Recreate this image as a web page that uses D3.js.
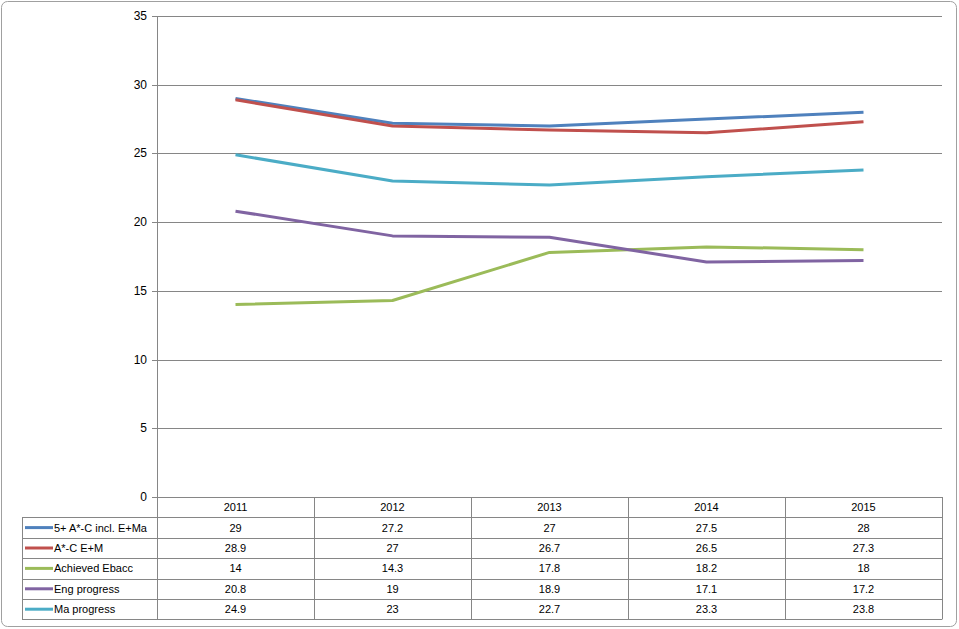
<!DOCTYPE html>
<html><head><meta charset="utf-8">
<script src="https://cdn.jsdelivr.net/npm/d3@7"></script>
<style>body{margin:0;background:#fff;}svg{display:block;font-family:"Liberation Sans",Arial,sans-serif;}</style>
</head><body>
<svg id="c" width="959" height="629"></svg>
<script>
const categories = ["2011","2012","2013","2014","2015"];
const seriesNames = ["5+ A*-C incl. E+Ma","A*-C E+M","Achieved Ebacc","Eng progress","Ma progress"];
const s1 = [29,27.2,27,27.5,28];
const s2 = [28.9,27,26.7,26.5,27.3];
const s3 = [14,14.3,17.8,18.2,18];
const s4 = [20.8,19,18.9,17.1,17.2];
const s5 = [24.9,23,22.7,23.3,23.8];
const yTicks = [0,5,10,15,20,25,30,35];
const colors = ["#4F81BD","#C0504D","#9BBB59","#8064A2","#4BACC6"];
const series = [s1,s2,s3,s4,s5];

const svg = d3.select("#c");
svg.append("rect").attr("x",1.5).attr("y",1.5).attr("width",955).attr("height",625)
  .attr("rx",6).attr("fill","#fff").attr("stroke","#a0a0a0");

const pLeft=157, pRight=942, pTop=16, pBottom=497;
const x = d3.scaleBand().domain(categories).range([pLeft,pRight]);
const y = d3.scaleLinear().domain([0,35]).range([pBottom,pTop]);

// gridlines
svg.append("g").selectAll("line").data(yTicks).join("line")
  .attr("x1",pLeft-5).attr("x2",pRight).attr("y1",d=>Math.round(y(d))+0.5).attr("y2",d=>Math.round(y(d))+0.5)
  .attr("stroke","#868686");
svg.append("line").attr("x1",pLeft+0.5).attr("x2",pLeft+0.5).attr("y1",pTop).attr("y2",pBottom).attr("stroke","#868686");
svg.append("g").selectAll("text").data(yTicks).join("text")
  .attr("x",pLeft-10).attr("y",d=>y(d)+4).attr("text-anchor","end").attr("font-size",12).attr("fill","#000").text(d=>d);

// lines
const line = d3.line().x((d,i)=>x(categories[i])+x.bandwidth()/2).y(d=>y(d));
series.forEach((s,k)=>{
  svg.append("path").datum(s).attr("d",line).attr("fill","none").attr("stroke",colors[k]).attr("stroke-width",3).attr("stroke-linejoin","round");
});

// data table
const rowH = 20.4;
const tLeft = 22;
const g = svg.append("g");
const bc = "#868686";
categories.forEach((c)=>{
  g.append("text").attr("x",x(c)+x.bandwidth()/2).attr("y",pBottom+rowH/2+4).attr("text-anchor","middle").attr("font-size",11).text(c);
});
categories.forEach((c)=>{
  g.append("line").attr("x1",Math.round(x(c)+x.bandwidth())+0.5).attr("x2",Math.round(x(c)+x.bandwidth())+0.5)
    .attr("y1",pBottom).attr("y2",pBottom+rowH*6).attr("stroke",bc);
});
g.append("line").attr("x1",pLeft+0.5).attr("x2",pLeft+0.5).attr("y1",pBottom).attr("y2",pBottom+rowH*6).attr("stroke",bc);
g.append("line").attr("x1",tLeft+0.5).attr("x2",tLeft+0.5).attr("y1",pBottom+rowH).attr("y2",pBottom+rowH*6).attr("stroke",bc);
for(let r=1;r<=6;r++){
  const yy=Math.round(pBottom+rowH*r)+0.5;
  g.append("line").attr("x1",tLeft).attr("x2",pRight).attr("y1",yy).attr("y2",yy).attr("stroke",bc);
}
series.forEach((s,k)=>{
  const cy = pBottom+rowH*(k+1)+rowH/2;
  g.append("line").attr("x1",25).attr("x2",53).attr("y1",cy).attr("y2",cy).attr("stroke",colors[k]).attr("stroke-width",3);
  g.append("text").attr("x",54).attr("y",cy+4).attr("font-size",11).text(seriesNames[k]);
  s.forEach((v,i)=>{
    g.append("text").attr("x",x(categories[i])+x.bandwidth()/2).attr("y",cy+4).attr("text-anchor","middle").attr("font-size",11).text(v);
  });
});
</script>
</body></html>
